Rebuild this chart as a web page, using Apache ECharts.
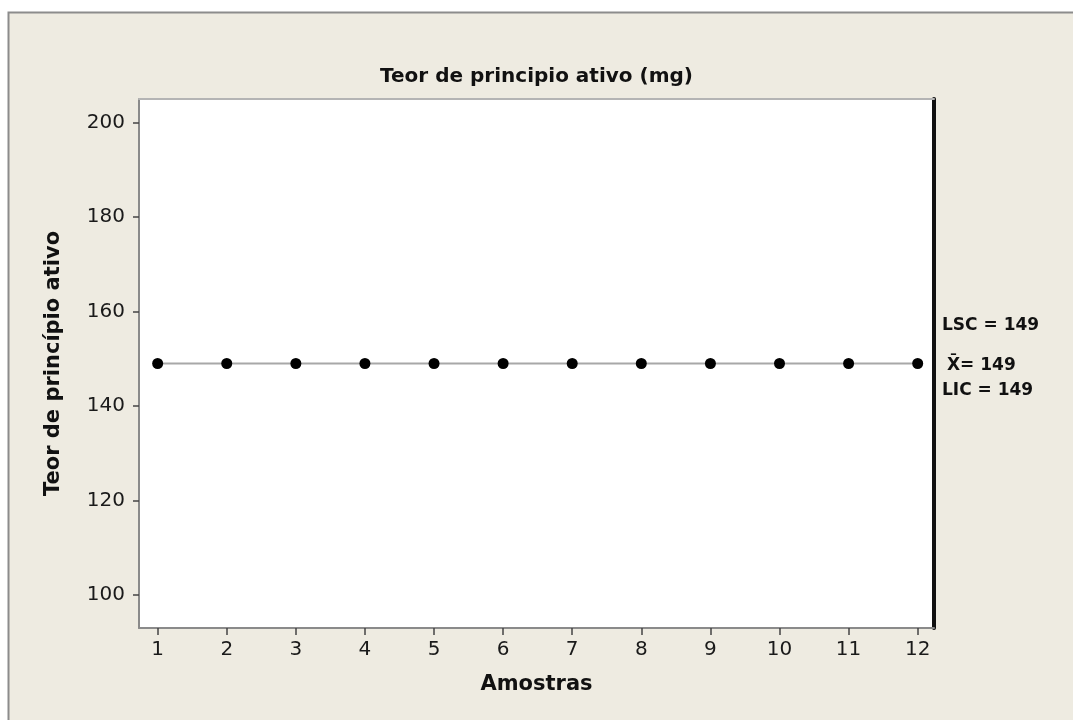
<!DOCTYPE html>
<html>
<head>
<meta charset="utf-8">
<script src="https://cdn.jsdelivr.net/npm/echarts@6/dist/echarts.min.js"></script>
<style>
  html, body { margin: 0; padding: 0; background: #fff; }
  #main { width: 1073px; height: 720px; }
</style>
</head>
<body>
<div id="main"></div>
<script>
// dados
const amostras = [1, 2, 3, 4, 5, 6, 7, 8, 9, 10, 11, 12];
const teor = [149, 149, 149, 149, 149, 149, 149, 149, 149, 149, 149, 149];
const limiteNomes = ['LSC', 'X\u0304', 'LIC'];
const limiteValores = [149, 149, 149];
const xTicks = [1, 2, 3, 4, 5, 6, 7, 8, 9, 10, 11, 12];
const yTicks = [100, 120, 140, 160, 180, 200];

const chart = echarts.init(document.getElementById('main'));

const boldFont = 'DejaVu Sans';
const tickText = { fontFamily: 'DejaVu Sans', fontSize: 20, color: '#1a1a1a' };

const option = {
  backgroundColor: '#fff',
  animation: false,
  title: {
    text: 'Teor de principio ativo (mg)',
    left: 'center',
    top: 62,
    textStyle: { fontFamily: boldFont, fontWeight: 'bold', fontSize: 20, color: '#111' },
  },
  grid: {
    left: 139,
    top: 99,
    right: 139,
    bottom: 92,
    show: true,
    backgroundColor: '#fff',
    borderWidth: 0,
  },
  xAxis: [
    {
      type: 'value',
      position: 'bottom',
      min: 0.73,
      max: 12.236,
      name: 'Amostras',
      nameLocation: 'middle',
      nameGap: 46,
      nameTextStyle: { fontFamily: boldFont, fontWeight: 'bold', fontSize: 21, color: '#111' },
      splitLine: { show: false },
      axisLine: { show: true, lineStyle: { color: '#8a8a8a', width: 2 } },
      axisTick: { show: true, length: 7, customValues: xTicks, lineStyle: { color: '#444', width: 1.5 } },
      axisLabel: { customValues: xTicks, margin: 12, ...tickText },
    },
    {
      type: 'value',
      position: 'top',
      min: 0.73,
      max: 12.236,
      splitLine: { show: false },
      axisLine: { show: true, lineStyle: { color: '#b4b4b4', width: 2 } },
      axisTick: { show: false },
      axisLabel: { show: false },
    },
  ],
  yAxis: [
    {
      type: 'value',
      position: 'left',
      min: 93,
      max: 205,
      name: 'Teor de princípio ativo',
      nameLocation: 'middle',
      nameGap: 75,
      nameTextStyle: { fontFamily: boldFont, fontWeight: 'bold', fontSize: 21, color: '#111' },
      splitLine: { show: false },
      axisLine: { show: true, lineStyle: { color: '#8a8a8a', width: 2 } },
      axisTick: { show: true, length: 6, customValues: yTicks, lineStyle: { color: '#444', width: 1.5 } },
      axisLabel: { customValues: yTicks, margin: 14, ...tickText },
    },
    {
      type: 'value',
      position: 'right',
      min: 93,
      max: 205,
      splitLine: { show: false },
      axisLine: { show: true, lineStyle: { color: '#111', width: 4 } },
      axisTick: { show: false },
      axisLabel: { show: false },
    },
  ],
  graphic: [
    {
      type: 'rect',
      z: -10,
      silent: true,
      shape: { x: 8.5, y: 12.5, width: 1100, height: 800 },
      style: { fill: '#eeebe1', stroke: '#8c8c8c', lineWidth: 2 },
    },
  ],
  series: [
    {
      type: 'line',
      data: amostras.map((a, i) => [a, teor[i]]),
      symbol: 'circle',
      symbolSize: 11,
      itemStyle: { color: '#000' },
      lineStyle: { color: '#a8a8a8', width: 2 },
      z: 3,
    },
  ],
};

chart.setOption(option);

// rótulos dos limites à direita do gráfico
const deslocY = [-38, 2, 27];
const deslocX = [942, 947, 942];
const rotulos = limiteNomes.map((nome, i) => {
  const y = chart.convertToPixel({ yAxisIndex: 0 }, limiteValores[i]);
  return {
    type: 'text',
    x: deslocX[i],
    y: y + deslocY[i],
    style: {
      text: nome + (i === 1 ? '= ' : ' = ') + limiteValores[i],
      fontFamily: boldFont,
      fontWeight: 'bold',
      fontSize: 17,
      fill: '#111',
      verticalAlign: 'middle',
      align: 'left',
    },
  };
});
chart.setOption({ graphic: option.graphic.concat(rotulos) });
</script>
</body>
</html>
